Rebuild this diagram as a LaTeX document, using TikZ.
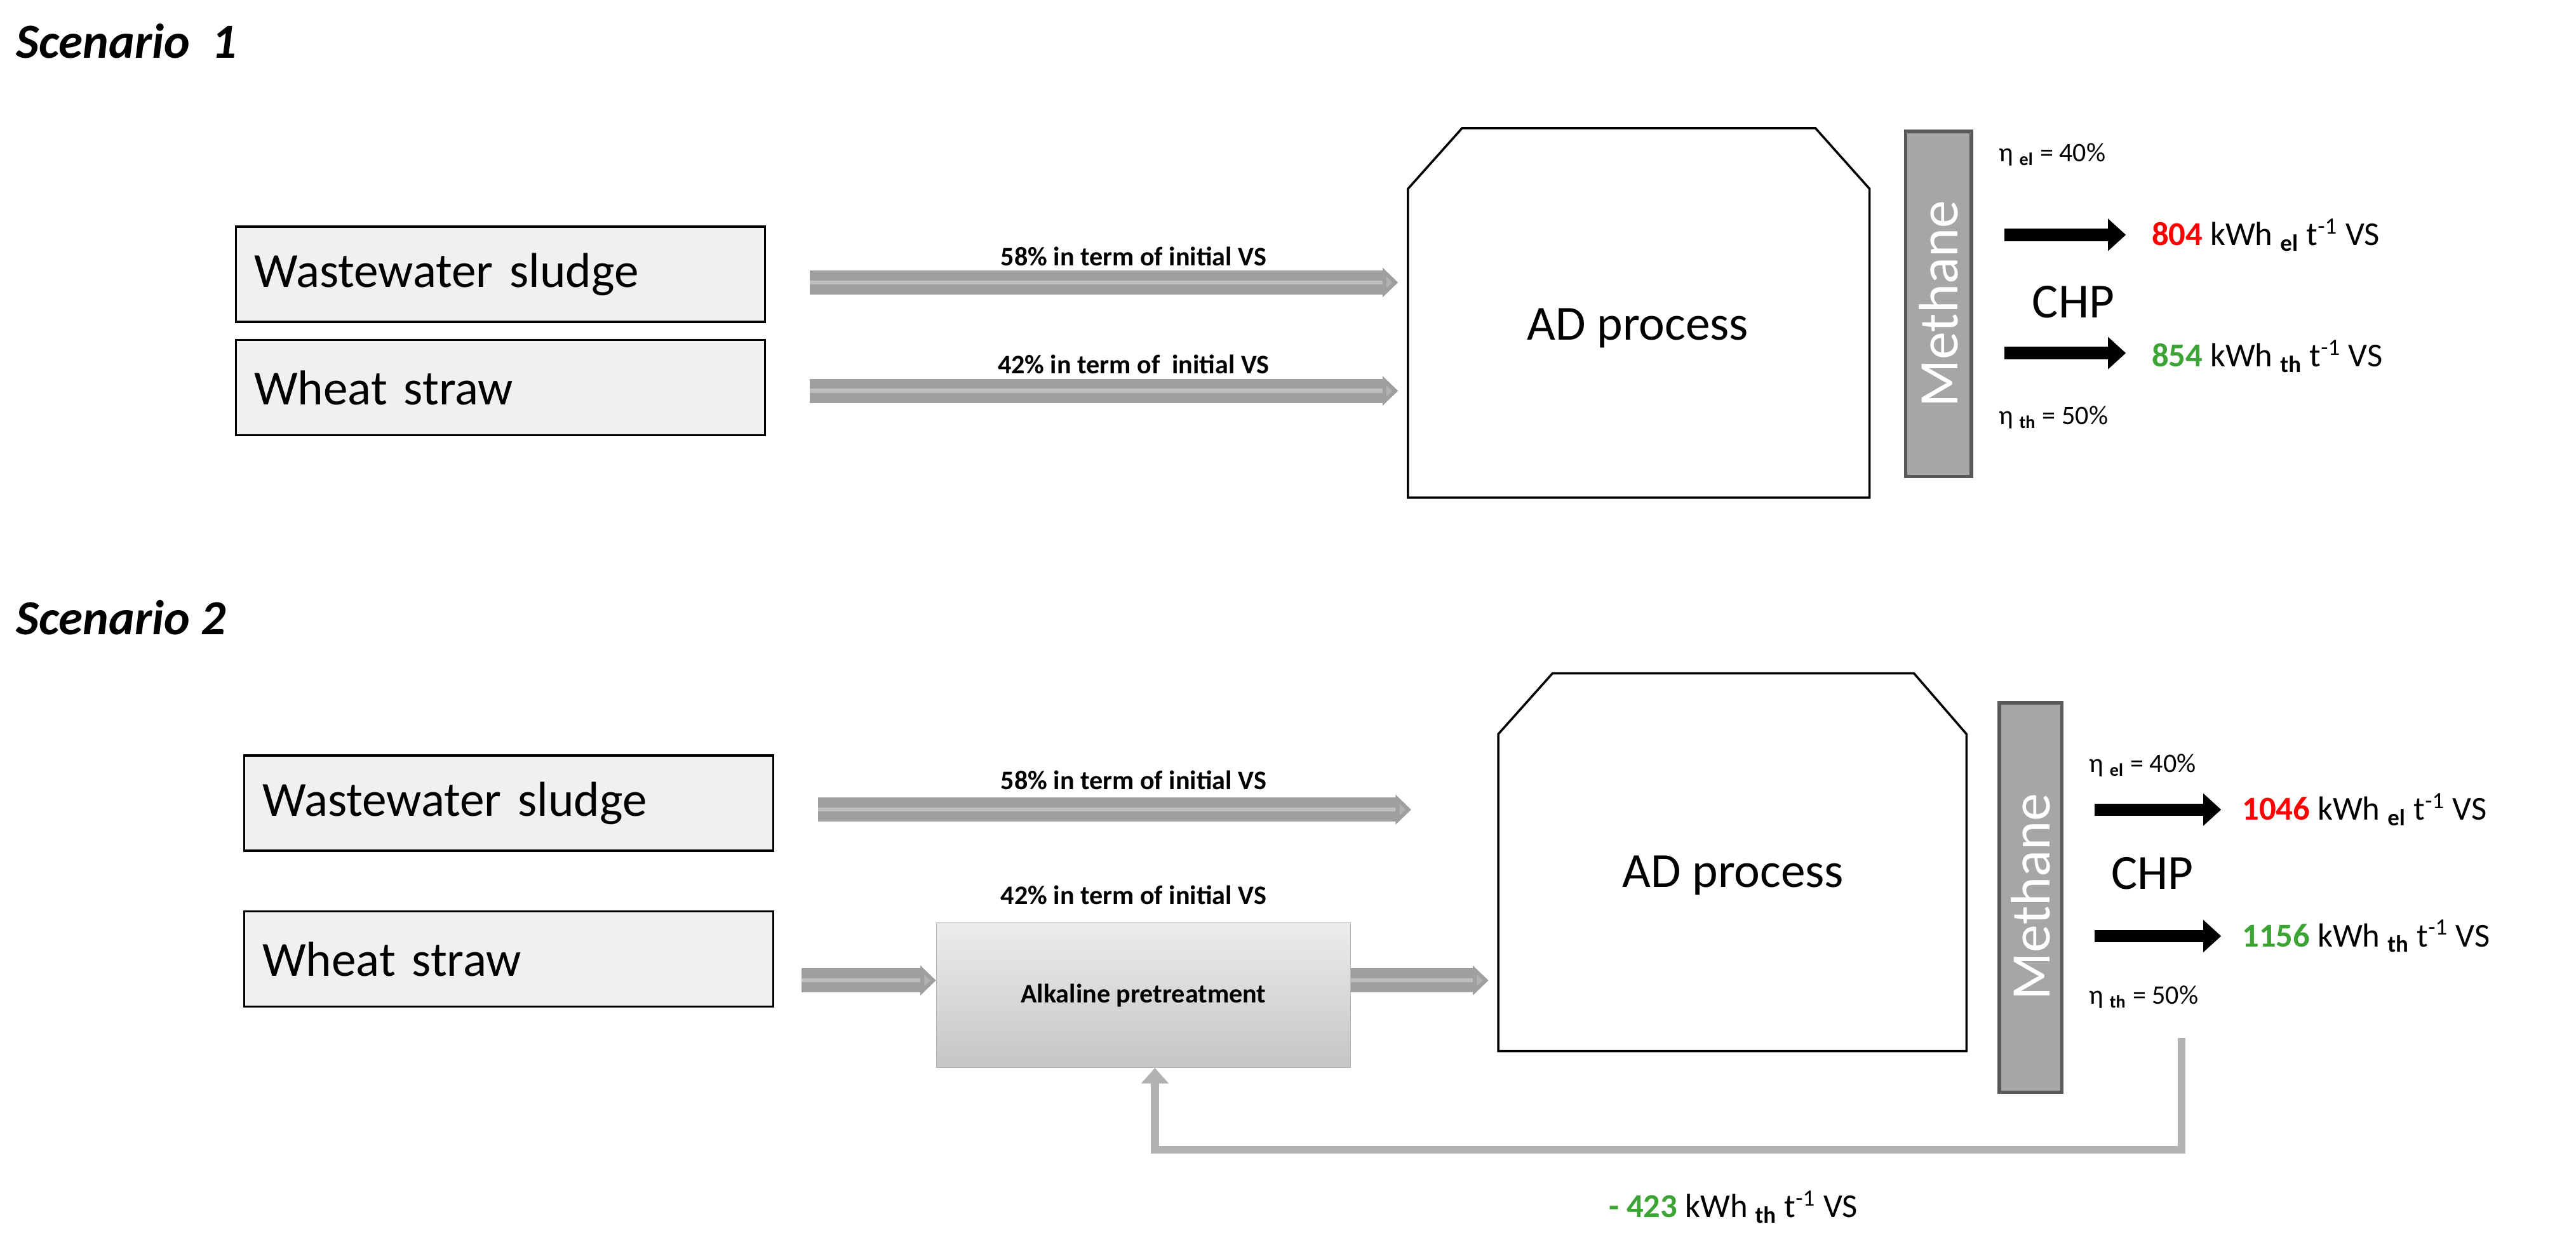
\documentclass[tikz,border=0pt]{standalone}
\usepackage{fontspec}
\setmainfont{Carlito}
\usetikzlibrary{arrows.meta,shadings}
\definecolor{myred}{HTML}{FF0000}
\definecolor{mygreen}{HTML}{3CA335}
\begin{document}
\begin{tikzpicture}[x=0.0259cm,y=-0.0259cm,
 box/.style={draw=black,line width=1pt,fill=gray!12,anchor=west,minimum height=58*0.0259cm,minimum width=322*0.0259cm,text width=300*0.0259cm,align=left,font=\fontsize{22}{24}\selectfont},
 gar/.style={line width=4.5pt,draw=gray!75,double=gray!50,double distance=1.8pt,-{Triangle[length=7pt,width=13pt,fill=gray!60]}},
 bar/.style={line width=5.5pt,draw=black,-{Triangle[length=8pt,width=14pt]}},
 lab/.style={font=\bfseries\fontsize{12}{14}\selectfont},
 meth/.style={draw=gray!70!black,fill=gray!70,line width=1.5pt},
 mtxt/.style={rotate=90,text=white,font=\fontsize{25}{27}\selectfont},
 ttl/.style={font=\bfseries\itshape\fontsize{22}{26}\selectfont,anchor=west},
 res/.style={anchor=west,font=\fontsize{15}{17}\selectfont},
 eta/.style={font=\fontsize{12}{14}\selectfont,anchor=west},
 chp/.style={font=\fontsize{22}{24}\selectfont}]
\useasboundingbox (0,0) rectangle (1568,753.5);
% Scenario 1
\node[ttl] (t1) at (5,25) {Scenario\ \ 1};
\node[box] (ws1) at (143,167) {Wastewater sludge};
\node[box] (wh1) at (143,236) {Wheat straw};
\draw[line width=1pt] (890,78) -- (1105,78) -- (1138,115) -- (1138,303) -- (857,303) -- (857,115) -- cycle;
\node[font=\fontsize{22}{24}\selectfont] (ad1) at (997,200) {AD process};
\coordinate (a1s) at (493,172); \coordinate (a1e) at (851,172);
\coordinate (a2s) at (493,238); \coordinate (a2e) at (851,238);
\draw[gar] (a1s) -- (a1e);
\draw[gar] (a2s) -- (a2e);
\node[lab] at (690,156) {58\% in term of initial VS};
\node[lab] at (690,222) {42\% in term of\ \ initial VS};
\draw[meth] (1160,80) rectangle (1200,290);
\node[mtxt] (m1) at (1180,185) {Methane};
\coordinate (b1s) at (1220,143); \coordinate (b1e) at (1294,143);
\coordinate (b2s) at (1220,215); \coordinate (b2e) at (1294,215);
\draw[bar] (b1s) -- (b1e);
\draw[bar] (b2s) -- (b2e);
\node[eta] at (1212,94) {η \textsubscript{\bfseries el} = 40\%};
\node[eta] at (1212,254) {η \textsubscript{\bfseries th} = 50\%};
\node[chp] at (1262,184) {CHP};
\node[res] at (1305,143) {\textbf{\textcolor{myred}{804}} kWh \textsubscript{\bfseries el} t\textsuperscript{-1} VS};
\node[res] at (1305,217) {\textbf{\textcolor{mygreen}{854}} kWh \textsubscript{\bfseries th} t\textsuperscript{-1} VS};
% Scenario 2
\node[ttl] (t2) at (5,376) {Scenario 2};
\node[box] (ws2) at (148,489) {Wastewater sludge};
\node[box] (wh2) at (148,584) {Wheat straw};
\draw[line width=1pt] (945,410) -- (1165,410) -- (1197,447) -- (1197,640) -- (912,640) -- (912,447) -- cycle;
\node[font=\fontsize{22}{24}\selectfont] (ad2) at (1055,533) {AD process};
\node[draw=gray!60,top color=gray!15,bottom color=gray!45,minimum width=252*0.0259cm,minimum height=88*0.0259cm,font=\bfseries\fontsize{12}{14}\selectfont] (alk) at (696,606) {Alkaline pretreatment};
\coordinate (c1s) at (498,493); \coordinate (c1e) at (859,493);
\draw[gar] (c1s) -- (c1e);
\node[lab] at (690,475) {58\% in term of initial VS};
\node[lab] at (690,545) {42\% in term of initial VS};
\coordinate (c2s) at (488,597);
\draw[gar] (c2s) -- (alk.west|-c2s);
\coordinate (c3e) at (906,597);
\draw[gar] (alk.east|-c3e) -- (c3e);
\draw[meth] (1217,428) rectangle (1255,665);
\node[mtxt] (m2) at (1236,546) {Methane};
\coordinate (d1s) at (1275,493); \coordinate (d1e) at (1352,493);
\coordinate (d2s) at (1275,570); \coordinate (d2e) at (1352,570);
\draw[bar] (d1s) -- (d1e);
\draw[bar] (d2s) -- (d2e);
\node[eta] at (1267,466) {η \textsubscript{\bfseries el} = 40\%};
\node[eta] at (1267,607) {η \textsubscript{\bfseries th} = 50\%};
\node[chp] at (1310,532) {CHP};
\node[res] at (1360,493) {\textbf{\textcolor{myred}{1046}} kWh \textsubscript{\bfseries el} t\textsuperscript{-1} VS};
\node[res] at (1360,570) {\textbf{\textcolor{mygreen}{1156}} kWh \textsubscript{\bfseries th} t\textsuperscript{-1} VS};
\coordinate (fb) at (1328,632);
\draw[line width=3.5pt,draw=gray!60,-{Triangle[length=7pt,width=12pt]}] (fb) -- (1328,700) -- (703,700) -- (alk.south-|703,0);
\node[res,anchor=center] at (1055,735) {\textbf{\textcolor{mygreen}{- 423}} kWh \textsubscript{\bfseries th} t\textsuperscript{-1} VS};
\end{tikzpicture}
\end{document}
